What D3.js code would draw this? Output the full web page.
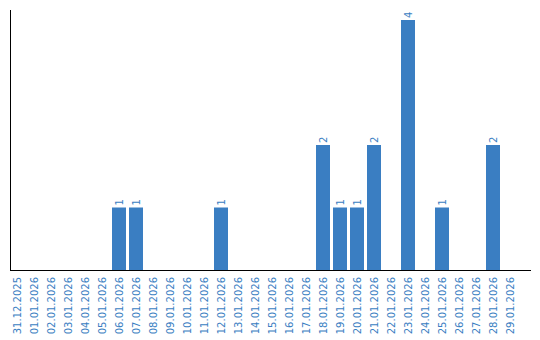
<!DOCTYPE html>
<html><head><meta charset="utf-8">
<script src="https://cdn.jsdelivr.net/npm/d3@7"></script>
<style>body{margin:0;background:#fff}svg{display:block}</style>
</head><body>
<script>
const categories = ["31.12.2025","01.01.2026","02.01.2026","03.01.2026","04.01.2026","05.01.2026","06.01.2026","07.01.2026","08.01.2026","09.01.2026","10.01.2026","11.01.2026","12.01.2026","13.01.2026","14.01.2026","15.01.2026","16.01.2026","17.01.2026","18.01.2026","19.01.2026","20.01.2026","21.01.2026","22.01.2026","23.01.2026","24.01.2026","25.01.2026","26.01.2026","27.01.2026","28.01.2026","29.01.2026"];
const values = [0,0,0,0,0,0,1,1,0,0,0,0,1,0,0,0,0,0,2,1,1,2,0,4,0,1,0,0,2,0];

const W = 540, H = 340;
const color = "#3a7ec2";
const svg = d3.select("body").append("svg").attr("width", W).attr("height", H);

const pad = 3/17;
const x = d3.scaleBand().domain(categories).range([8.5, 518.5]).paddingInner(pad).paddingOuter(pad/2);
const y = d3.scaleLinear().domain([0, 4]).range([270, 20]);

const data = categories.map((c,i)=>({c, v: values[i]}));

svg.selectAll("rect.bar").data(data.filter(d=>d.v>0)).join("rect")
  .attr("class","bar")
  .attr("x", d=>x(d.c)).attr("width", x.bandwidth())
  .attr("y", d=>y(d.v)).attr("height", d=>y(0)-y(d.v))
  .attr("fill", color);

svg.selectAll("text.val").data(data.filter(d=>d.v>0)).join("text")
  .attr("class","val")
  .attr("transform", d=>`translate(${x(d.c)+x.bandwidth()/2+3.5},${y(d.v)-2}) rotate(-90)`)
  .attr("font-family","DejaVu Sans").attr("font-size",10)
  .attr("fill", color).text(d=>d.v);

// axes lines
svg.append("line").attr("x1",10.5).attr("x2",10.5).attr("y1",10).attr("y2",270.5)
  .attr("stroke","#000").attr("stroke-width",1);
svg.append("line").attr("x1",10).attr("x2",531).attr("y1",270.5).attr("y2",270.5)
  .attr("stroke","#000").attr("stroke-width",1);

svg.selectAll("text.cat").data(categories).join("text")
  .attr("class","cat")
  .attr("transform", d=>`translate(${x(d)+x.bandwidth()/2+3.5},277) rotate(-90)`)
  .attr("text-anchor","end")
  .attr("font-family","DejaVu Sans").attr("font-size",10)
  .attr("fill", color).text(d=>d);
</script>
</body></html>
